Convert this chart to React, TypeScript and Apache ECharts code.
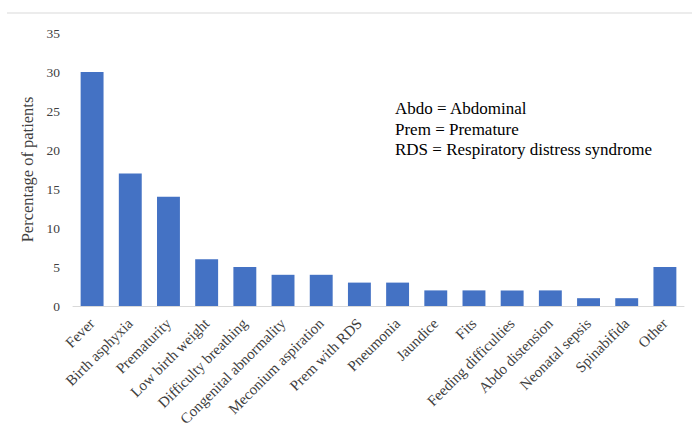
import React, { useEffect, useRef } from "react";
import * as echarts from "echarts";

const categories = [
  "Fever",
  "Birth asphyxia",
  "Prematurity",
  "Low birth weight",
  "Difficulty breathing",
  "Congenital abnormality",
  "Meconium aspiration",
  "Prem with RDS",
  "Pneumonia",
  "Jaundice",
  "Fits",
  "Feeding difficulties",
  "Abdo distension",
  "Neonatal sepsis",
  "Spinabifida",
  "Other",
];
const values = [30, 17, 14, 6, 5, 4, 4, 3, 3, 2, 2, 2, 2, 1, 1, 5];
const notes = [
  "Abdo = Abdominal",
  "Prem = Premature",
  "RDS = Respiratory distress syndrome",
];
const yTitle = "Percentage of patients";

export default function App() {
  const ref = useRef<HTMLDivElement>(null);
  useEffect(() => {
    if (!ref.current) return;
    const chart = echarts.init(ref.current, null, { renderer: "svg" });
    const font = "Liberation Serif";
    chart.setOption({
      animation: false,
      backgroundColor: "#ffffff",
      textStyle: { fontFamily: font },
      grid: { left: 73, right: 8, top: 33, bottom: 126, containLabel: false },
      xAxis: {
        type: "category",
        data: categories,
        axisLine: { lineStyle: { color: "#d9d9d9", width: 1 } },
        axisTick: { show: false },
        axisLabel: {
          rotate: 45,
          interval: 0,
          color: "#404040",
          fontFamily: font,
          fontSize: 15,
          margin: 15,
        },
      },
      yAxis: {
        type: "value",
        min: 0,
        max: 35,
        interval: 5,
        name: yTitle,
        nameLocation: "middle",
        nameGap: 27,
        nameTextStyle: { color: "#404040", fontFamily: font, fontSize: 16.5 },
        axisLine: { show: false },
        axisTick: { show: false },
        splitLine: { show: false },
        axisLabel: { color: "#404040", fontFamily: font, fontSize: 13.5, margin: 13 },
      },
      series: [
        {
          type: "bar",
          data: values,
          barWidth: "60%",
          itemStyle: { color: "#4472C4" },
        },
      ],
      graphic: [
        {
          type: "line",
          shape: { x1: 7, y1: 13, x2: 692, y2: 13 },
          style: { stroke: "#d9d9d9", lineWidth: 1 },
        },
        ...notes.map((t, i) => ({
          type: "text",
          left: 395,
          top: 100 + i * 20.5,
          style: { text: t, fill: "#000000", fontFamily: font, fontSize: 17 },
        })),
      ],
    });
    return () => chart.dispose();
  }, []);
  return (
    <div
      ref={ref}
      style={{ position: "fixed", left: 0, top: 0, width: 692, height: 432 }}
    />
  );
}
